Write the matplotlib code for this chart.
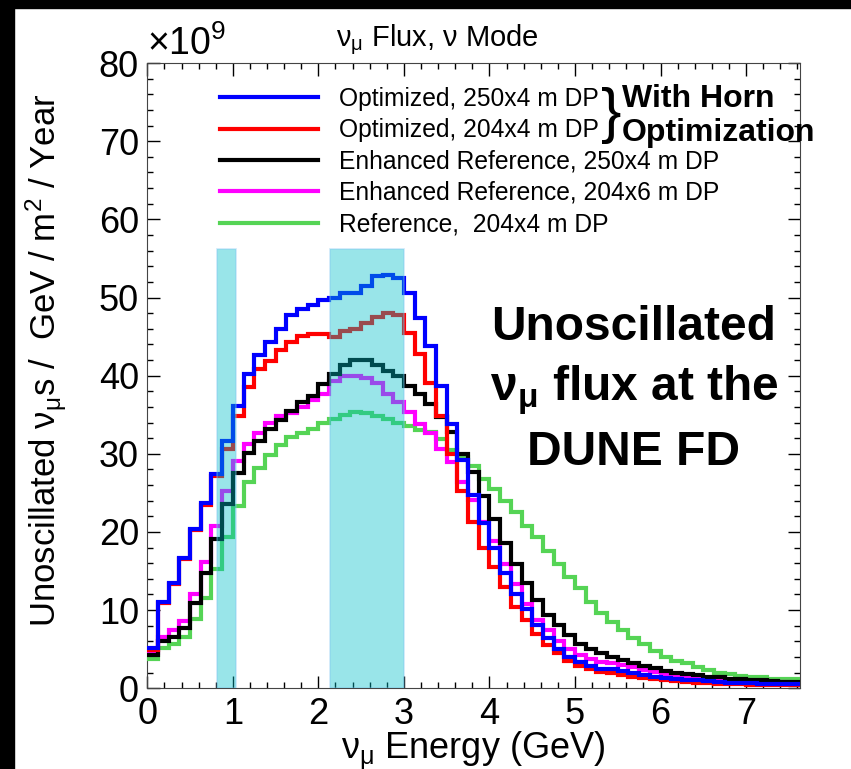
import numpy as np
import matplotlib
matplotlib.use('Agg')
import matplotlib.pyplot as plt
from matplotlib.ticker import MultipleLocator
from matplotlib.patches import Rectangle

plt.rcParams['font.family'] = ['Liberation Sans', 'DejaVu Sans']
plt.rcParams['mathtext.fontset'] = 'custom'
plt.rcParams['mathtext.rm'] = 'Liberation Sans'
plt.rcParams['mathtext.it'] = 'Liberation Sans'
plt.rcParams['mathtext.bf'] = 'Liberation Sans:bold'

# 0.125 GeV bins, 0 - 7.625 GeV
edges = np.arange(62) * 0.125

# flux per bin, units of 1e9 nu_mu / GeV / m^2 / year
opt_250 = [5.1, 11.1, 13.5, 16.7, 20.4, 23.7, 27.4, 31.7, 36.1, 40.2, 42.6, 44.3, 46.0, 47.8, 48.5,
           49.1, 49.7, 49.9, 50.6, 50.6, 51.5, 52.8, 52.9, 52.5, 50.6, 47.4, 43.8, 38.7, 33.8,
           29.2, 24.7, 21.1, 17.9, 14.7, 12.1, 10.1, 8.1, 6.4, 5.0, 4.0, 3.3, 2.8, 2.45, 2.4,
           2.2, 2.0, 1.7, 1.5, 1.3, 1.15, 1.05, 1.0, 0.9, 0.8, 0.7, 0.68, 0.63, 0.6, 0.55, 0.55, 0.5]
opt_204 = [4.9, 10.9, 13.3, 16.5, 20.2, 23.5, 27.2, 30.6, 34.9, 38.5, 40.9, 41.9, 43.3, 44.3, 45.1,
           45.3, 45.3, 45.0, 45.7, 46.0, 46.7, 47.5, 48.0, 47.7, 45.5, 42.8, 39.1, 34.9, 30.0,
           25.3, 21.3, 18.0, 15.5, 13.0, 10.4, 8.7, 7.0, 5.5, 4.5, 3.5, 2.8, 2.4, 2.1, 1.9,
           1.7, 1.5, 1.3, 1.15, 1.0, 0.9, 0.8, 0.72, 0.63, 0.6, 0.55, 0.5, 0.47, 0.42, 0.42, 0.38, 0.38]
enh_250 = [4.2, 6.0, 6.6, 7.7, 10.9, 14.8, 19.1, 23.6, 27.5, 30.1, 31.7, 33.2, 34.3, 35.5, 36.6,
           37.4, 38.9, 40.2, 41.4, 42.0, 42.0, 41.4, 40.6, 39.9, 38.7, 37.7, 36.4, 34.7, 32.8,
           30.0, 27.7, 24.6, 21.6, 18.6, 15.9, 13.5, 11.3, 9.4, 8.1, 6.8, 5.7, 5.0, 4.5, 4.0,
           3.6, 3.2, 2.8, 2.55, 2.25, 2.0, 1.8, 1.65, 1.5, 1.4, 1.2, 1.15, 1.05, 1.0, 0.9, 0.85, 0.8]
enh_204 = [4.5, 6.6, 7.4, 8.6, 12.1, 16.1, 20.8, 25.2, 29.1, 31.3, 32.6, 33.9, 34.9, 35.2, 36.0,
           36.9, 37.7, 39.3, 40.0, 40.0, 39.7, 39.0, 37.7, 36.6, 35.3, 33.8, 32.6, 30.6, 28.9,
           26.4, 24.1, 21.3, 18.8, 15.9, 13.4, 10.8, 8.7, 7.4, 6.1, 5.0, 4.2, 3.8, 3.3, 3.2,
           3.0, 2.7, 2.3, 2.1, 1.8, 1.65, 1.5, 1.3, 1.2, 1.15, 1.05, 1.0, 0.9, 0.85, 0.8, 0.75, 0.7]
ref_204 = [3.8, 5.1, 5.7, 6.6, 8.9, 11.6, 15.3, 19.4, 23.3, 26.4, 28.2, 29.9, 31.1, 32.1, 32.7,
           33.2, 33.9, 34.5, 35.0, 35.3, 35.2, 34.9, 34.5, 34.0, 33.6, 33.1, 32.8, 31.9, 30.5,
           29.6, 28.4, 26.8, 25.5, 24.0, 22.6, 20.7, 19.4, 17.6, 15.9, 14.3, 12.8, 11.1, 9.6, 8.5,
           7.4, 6.4, 5.7, 4.8, 4.0, 3.5, 3.2, 2.7, 2.3, 2.0, 1.8, 1.6, 1.5, 1.4, 1.2, 1.2, 1.15]

labels = ['Optimized, 250x4 m DP', 'Optimized, 204x4 m DP', 'Enhanced Reference, 250x4 m DP',
          'Enhanced Reference, 204x6 m DP', 'Reference,  204x4 m DP']
colors = ['#0000ff', '#ff0000', '#000000', '#ff00ff', '#55d455']
series = [opt_250, opt_204, enh_250, enh_204, ref_204]

# highlighted energy windows
band_lo = [0.81, 2.14]
band_hi = [1.04, 3.00]
band_top = 56.2

fig = plt.figure(figsize=(8.51, 7.69), dpi=100)
ax = fig.add_axes([0.1731, 0.105, 0.7664, 0.813])

# frame strips of the screenshot
fig.patches.append(Rectangle((0, 1 - 8 / 769), 1, 8 / 769, transform=fig.transFigure, color='black', zorder=0))
fig.patches.append(Rectangle((0, 0), 14 / 851, 1, transform=fig.transFigure, color='black', zorder=0))

# blue on top, green at the bottom
for i in range(5):
    ax.stairs(series[i], edges, color=colors[i], lw=3.0, baseline=None, zorder=7 - i)
handles = [plt.Line2D([], [], color=c, lw=3.0) for c in colors]

for lo, hi in zip(band_lo, band_hi):
    ax.bar(lo, band_top, width=hi - lo, align='edge', color=(0.0, 0.745, 0.784), alpha=0.4,
           edgecolor='#7fc4f0', lw=1.2, zorder=10)

ax.set_xlim(0, 7.625)
ax.set_ylim(0, 80)
ax.xaxis.set_major_locator(MultipleLocator(1))
ax.xaxis.set_minor_locator(MultipleLocator(0.2))
ax.yaxis.set_major_locator(MultipleLocator(10))
ax.yaxis.set_minor_locator(MultipleLocator(2))
ax.tick_params(which='both', direction='in', top=True, right=True, width=1.0, labelsize=26, pad=6)
ax.tick_params(which='major', length=9)
ax.tick_params(which='minor', length=4.5)
for s in ax.spines.values():
    s.set_color('#444444')

ax.set_xlabel(r'$\nu_{\mu}$ Energy (GeV)', fontsize=26, labelpad=-1)
ax.set_ylabel(r'Unoscillated $\nu_{\mu}$s /  GeV / m$^{2}$ / Year', fontsize=25)
ax.yaxis.set_label_coords(-0.12, 0.525)
ax.text(0.0, 1.0, r'$\times$10$^{9}$', transform=ax.transAxes, fontsize=27, ha='left', va='bottom')
fig.text(437 / 851, 1 - 46 / 769, r'$\nu_{\mu}$ Flux, $\nu$ Mode', fontsize=21, ha='center', va='baseline')

ax.legend(handles, labels, loc='upper left', bbox_to_anchor=(0.111, 0.962), frameon=False,
          fontsize=17.7, handlelength=4.0, handletextpad=0.85, labelspacing=0.3, borderpad=0,
          borderaxespad=0)

ax.text(0.711, 0.962, '}', transform=ax.transAxes, fontsize=44, va='top', ha='center')
ax.text(0.728, 0.967, 'With Horn\nOptimization', transform=ax.transAxes, fontsize=23,
        fontweight='bold', va='top', ha='left', linespacing=1.2)

ax.text(0.746, 0.477, 'Unoscillated\n' + r'$\mathbf{\nu_{\mu}}$ flux at the' + '\nDUNE FD',
        transform=ax.transAxes, fontsize=34.5, fontweight='bold', ha='center', va='center',
        linespacing=1.37, zorder=20)

fig.savefig('out.png', dpi=100)
